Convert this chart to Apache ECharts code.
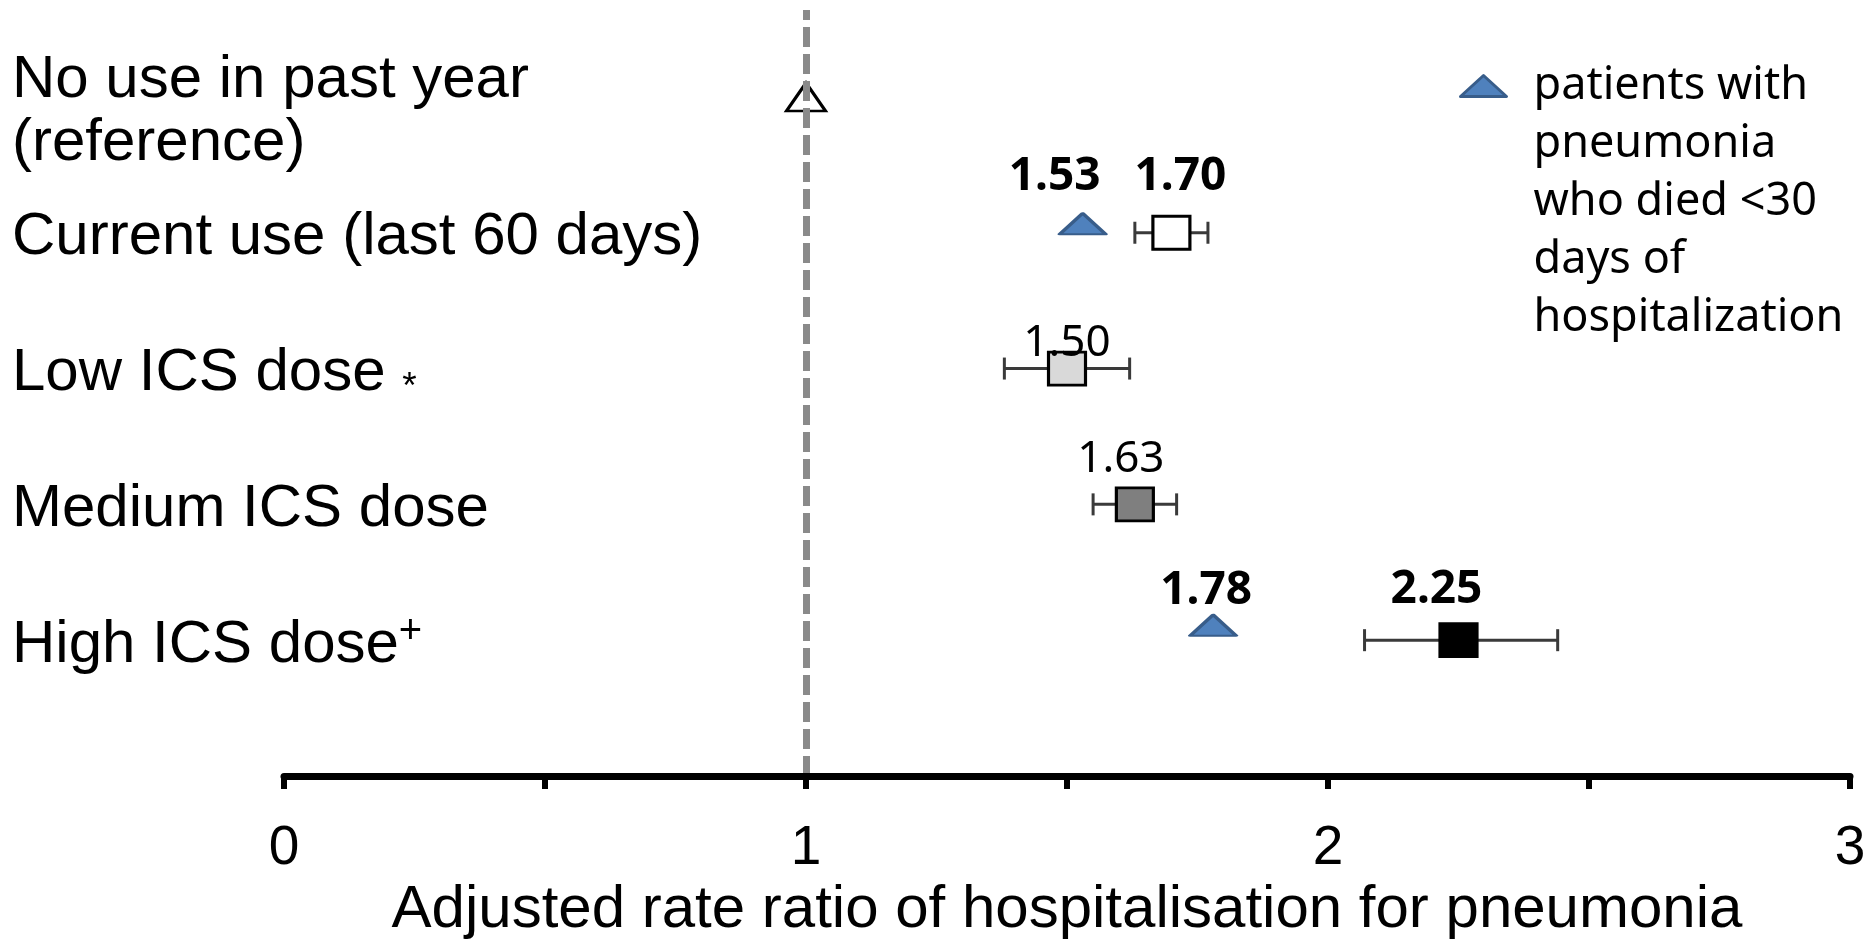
<!DOCTYPE html>
<html>
<head>
<meta charset="utf-8">
<title>Adjusted rate ratio of hospitalisation for pneumonia</title>
<script src="https://cdn.jsdelivr.net/npm/echarts@6/dist/echarts.min.js"></script>
<style>
  html, body { margin: 0; padding: 0; background: #ffffff; }
  #chart { width: 1874px; height: 939px; }
</style>
</head>
<body>
<div id="chart"></div>
<script>
// Rows, top to bottom
const categories = [
  'No use in past year\n(reference)',
  'Current use (last 60 days)',
  'Low ICS dose',
  'Medium ICS dose',
  'High ICS dose'
];
const categoryNotes = ['', '', '*', '', '+'];

// Reference group
const referenceRatio = 1;

// Adjusted rate ratios with 95% CI for rows 1-4 (current use, low, medium, high dose)
const rateRatio = [1.70, 1.50, 1.63, 2.25];
const ciLower   = [1.63, 1.38, 1.55, 2.07];
const ciUpper   = [1.77, 1.62, 1.71, 2.44];

// Patients with pneumonia who died within 30 days (current use row, high dose row)
const deathRows  = [1, 4];
const deathRatio = [1.53, 1.78];

const deathName = 'patients with pneumonia who died <30 days of hospitalization';
const legendLines = ['patients with', 'pneumonia', 'who died <30', 'days of', 'hospitalization'];
const axisTitle = 'Adjusted rate ratio of hospitalisation for pneumonia';

// ---- styling ----
const SANS = '"Liberation Sans", Arial, sans-serif';
const NOTO = '"Noto Sans", "Open Sans", sans-serif';
const boxFills = ['#ffffff', '#d9d9d9', '#7f7f7f', '#000000'];
const boxLabelBold = [true, false, false, true];
const boxLabelNudge = [[9, -56], [0, -25], [-14, -45], [-22, -50]];
const deathSymbolShift = [[0, -9], [0, -15]];
const deathLabelNudge = [[-28, -47], [-7, -34]];
const legendLineHeight = 58;
const legendIconY = 86;

const n = categories.length;
const rowY = i => n - i;   // top row sits highest on the value axis

function categoryLabel(v) {
  if (!Number.isInteger(v) || v < 1 || v > n) return '';
  const i = n - v;
  const lines = categories[i].split('\n');
  if (lines.length > 1) {
    return '{first|' + lines[0] + '}\n{second|' + lines[1] + '}';
  }
  const note = categoryNotes[i];
  if (note === '*') return '{t|' + lines[0] + ' }{ast|*}';
  if (note === '+') return '{t|' + lines[0] + '}{sup|+}';
  return '{t|' + lines[0] + '}';
}

// Legend text hangs below the icon: the icon is centred on the first text line
function legendText() {
  const pad = new Array(legendLines.length - 1).fill('');
  return pad.concat(legendLines).join('\n');
}

function renderErrorBar(params, api) {
  const y = api.value(2);
  const a = api.coord([api.value(0), y]);
  const b = api.coord([api.value(1), y]);
  const cap = 11;
  const style = { stroke: '#3a3a3a', lineWidth: 3 };
  return {
    type: 'group',
    children: [
      { type: 'line', shape: { x1: a[0], y1: a[1], x2: b[0], y2: b[1] }, style },
      { type: 'line', shape: { x1: a[0], y1: a[1] - cap, x2: a[0], y2: a[1] + cap }, style },
      { type: 'line', shape: { x1: b[0], y1: b[1] - cap, x2: b[0], y2: b[1] + cap }, style }
    ]
  };
}

const chart = echarts.init(document.getElementById('chart'), null, { renderer: 'canvas' });

chart.setOption({
  animation: false,
  backgroundColor: '#ffffff',
  grid: { left: 284, right: 24, top: 10, bottom: 163, containLabel: false, outerBoundsMode: 'none' },
  legend: {
    data: [deathName],
    left: 1459,
    top: legendIconY - (2 * legendLines.length - 1) * legendLineHeight / 2,
    padding: 0,
    icon: 'triangle',
    itemWidth: 46,
    itemHeight: 21,
    selectedMode: false,
    itemStyle: { color: '#4f81bd', borderColor: '#385d8a', borderWidth: 3, borderJoin: 'round', opacity: 1 },
    formatter: legendText,
    textStyle: {
      fontFamily: NOTO, fontSize: 45, lineHeight: legendLineHeight, color: '#000000',
      padding: [0, 0, 0, 22]
    }
  },
  xAxis: {
    type: 'value',
    min: 0,
    max: 3,
    interval: 0.5,
    z: 5,
    name: axisTitle,
    nameLocation: 'middle',
    nameGap: 101,
    nameTextStyle: { fontFamily: SANS, fontSize: 60, color: '#000000' },
    axisLine: { show: true, lineStyle: { color: '#000000', width: 7 } },
    axisTick: { show: true, length: 13, lineStyle: { color: '#000000', width: 6 } },
    axisLabel: {
      margin: 45,
      fontFamily: SANS, fontSize: 55, color: '#000000',
      formatter: v => (Number.isInteger(v) ? String(v) : '')
    },
    splitLine: { show: false }
  },
  yAxis: {
    type: 'value',
    min: 0,
    max: 5.64,
    interval: 1,
    axisLine: { show: false },
    axisTick: { show: false },
    splitLine: { show: false },
    axisLabel: {
      align: 'left',
      margin: 272,
      padding: [10, 0, 0, 0],
      formatter: categoryLabel,
      rich: {
        t: { fontFamily: SANS, fontSize: 60, lineHeight: 66, color: '#000000' },
        first: { fontFamily: SANS, fontSize: 60, lineHeight: 84, color: '#000000', padding: [22, 0, 0, 0] },
        second: { fontFamily: SANS, fontSize: 60, lineHeight: 64, color: '#000000' },
        ast: { fontFamily: SANS, fontSize: 37, lineHeight: 40, color: '#000000', verticalAlign: 'bottom' },
        sup: { fontFamily: SANS, fontSize: 40, lineHeight: 20, color: '#000000', verticalAlign: 'top' }
      }
    }
  },
  series: [
    {
      type: 'custom',
      name: 'ci',
      z: 1,
      silent: true,
      renderItem: renderErrorBar,
      encode: { x: [0, 1], y: 2 },
      data: rateRatio.map((_, k) => [ciLower[k], ciUpper[k], rowY(k + 1)]),
      markLine: {
        silent: true,
        symbol: 'none',
        label: { show: false },
        lineStyle: { type: [20, 7], width: 7, color: '#8a8a8a', opacity: 1 },
        data: [{ xAxis: referenceRatio }]
      }
    },
    {
      type: 'scatter',
      name: 'reference',
      z: 3,
      silent: true,
      symbol: 'triangle',
      symbolSize: [39, 28],
      itemStyle: { color: 'rgba(255,255,255,0)', borderColor: '#000000', borderWidth: 3, opacity: 1 },
      data: [[referenceRatio, rowY(0)]]
    },
    {
      type: 'scatter',
      name: 'rate ratio',
      z: 4,
      silent: true,
      symbol: 'rect',
      symbolSize: [37, 33],
      itemStyle: { borderColor: '#000000', borderWidth: 3, opacity: 1 },
      label: {
        show: true,
        position: 'inside',
        color: '#000000',
        fontFamily: NOTO,
        formatter: p => p.value[0].toFixed(2)
      },
      data: rateRatio.map((v, k) => ({
        value: [v, rowY(k + 1)],
        itemStyle: { color: boxFills[k] },
        label: {
          offset: boxLabelNudge[k],
          fontWeight: boxLabelBold[k] ? 'bold' : 'normal',
          fontSize: boxLabelBold[k] ? 46 : 44
        }
      }))
    },
    {
      type: 'scatter',
      name: deathName,
      z: 4,
      silent: true,
      symbol: 'triangle',
      symbolSize: [46, 21],
      itemStyle: { color: '#4f81bd', borderColor: '#385d8a', borderWidth: 3, borderJoin: 'round', opacity: 1 },
      label: {
        show: true,
        position: 'inside',
        color: '#000000',
        fontFamily: NOTO,
        fontWeight: 'bold',
        fontSize: 46,
        formatter: p => p.value[0].toFixed(2)
      },
      data: deathRatio.map((v, k) => ({
        value: [v, rowY(deathRows[k])],
        symbolOffset: deathSymbolShift[k],
        label: { offset: deathLabelNudge[k] }
      }))
    }
  ]
});
</script>
</body>
</html>
